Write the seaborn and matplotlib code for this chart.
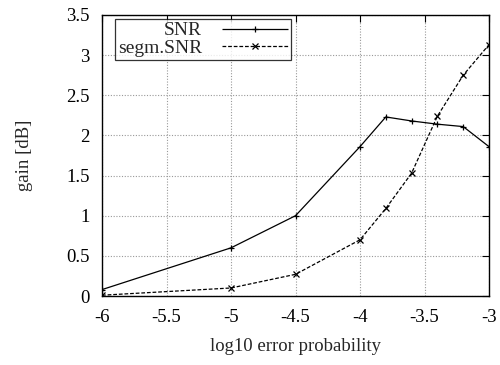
import matplotlib
matplotlib.use("Agg")
import matplotlib.pyplot as plt
import seaborn as sns
import pandas as pd

x_vals = [-6, -5, -4.5, -4, -3.8, -3.6, -3.4, -3.2, -3]
snr = [0.08, 0.60, 1.00, 1.86, 2.23, 2.18, 2.14, 2.11, 1.86]
segm_snr = [0.01, 0.10, 0.27, 0.70, 1.09, 1.53, 2.24, 2.75, 3.13]
series_names = ["SNR", "segm.SNR"]

sns.set_theme(style="white")
plt.rcParams["font.family"] = ["Liberation Serif", "DejaVu Serif"]

df = pd.concat([
    pd.DataFrame({"x": x_vals, "y": snr, "series": series_names[0]}),
    pd.DataFrame({"x": x_vals, "y": segm_snr, "series": series_names[1]}),
])

fig = plt.figure(figsize=(5.0, 3.65), dpi=100)
ax = fig.add_axes([0.204, 0.189, 0.774, 0.770])

sns.lineplot(data=df, x="x", y="y", hue="series", style="series",
             palette=["black", "black"],
             dashes={"SNR": (1, 0), "segm.SNR": (3, 1.5)},
             markers={"SNR": "+", "segm.SNR": "x"},
             linewidth=0.9, ax=ax, legend=True)

for ln in ax.lines:
    ln.set_markeredgecolor("black")
    ln.set_markerfacecolor("black")
    ln.set_markersize(5)
    ln.set_markeredgewidth(0.9)

ax.set_xlim(-6, -3)
ax.set_ylim(0, 3.5)
ax.set_xticks([-6, -5.5, -5, -4.5, -4, -3.5, -3])
ax.set_xticklabels(["-6", "-5.5", "-5", "-4.5", "-4", "-3.5", "-3"])
ax.set_yticks([0, 0.5, 1, 1.5, 2, 2.5, 3, 3.5])
ax.set_yticklabels(["0", "0.5", "1", "1.5", "2", "2.5", "3", "3.5"])
ax.grid(True, color="#999999", linestyle=(0, (1, 1.5)), linewidth=0.8)
ax.tick_params(direction="in", length=5, width=0.8, top=True, right=True,
               labelsize=13.5, colors="black")
ax.tick_params(axis="x", pad=9)
ax.tick_params(axis="y", pad=9)
for s in ax.spines.values():
    s.set_color("black")
    s.set_linewidth(1.0)
ax.set_xlabel("log10 error probability", fontsize=13.5, labelpad=9)
ax.set_ylabel("gain [dB]", fontsize=13.5, labelpad=24)

leg = ax.legend(loc="upper left", bbox_to_anchor=(0.034, 0.986),
                markerfirst=False, fontsize=14, frameon=True, fancybox=False,
                borderpad=0.15, labelspacing=0.0, handlelength=3.4,
                handletextpad=1.0, borderaxespad=0.0)
leg.get_frame().set_edgecolor("black")
leg.get_frame().set_linewidth(0.9)
for h in leg.legend_handles:
    h.set_markeredgecolor("black")
    h.set_markerfacecolor("black")
    h.set_markersize(5)
    h.set_markeredgewidth(0.9)
    h.set_linewidth(0.9)
leg._legend_box.align = "right"
for t in leg.get_texts():
    t.set_ha("right")

fig.savefig("out.png", dpi=100)
